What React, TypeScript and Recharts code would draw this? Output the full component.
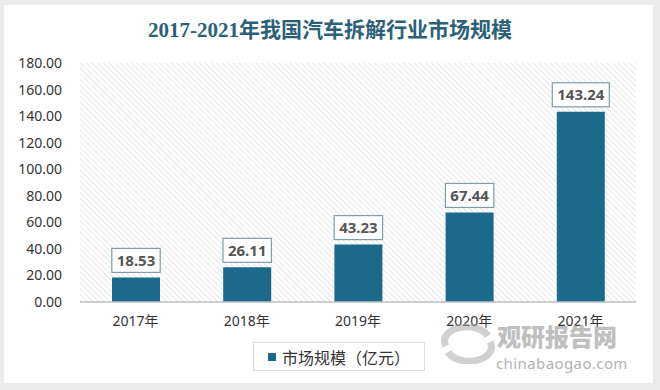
import { Bar, BarChart, CartesianGrid, LabelList, XAxis, YAxis } from 'recharts'

const years = ['2017年', '2018年', '2019年', '2020年', '2021年']
const marketSize = [18.53, 26.11, 43.23, 67.44, 143.24]
const yTicks = [0, 20, 40, 60, 80, 100, 120, 140, 160, 180]

const data = years.map((year, i) => ({ year, value: marketSize[i] }))

const BAR_COLOR = '#1b6a8c'

function ValueLabel(props: any) {
  const { x, y, width, value } = props
  const text = Number(value).toFixed(2)
  const boxW = (text.length - 1) * 8.6 + 4 + 10
  const boxH = 24
  const cx = x + width / 2
  const top = y - 5 - boxH
  return (
    <g>
      <rect
        x={cx - boxW / 2}
        y={top}
        width={boxW}
        height={boxH}
        fill="#fff"
        stroke="#7f9ca9"
        strokeWidth={1.2}
      />
      <text
        x={cx}
        y={top + boxH / 2 + 5.5}
        textAnchor="middle"
        fontSize={15}
        fontWeight="bold"
        fill="#555"
        fontFamily="'Noto Sans', sans-serif"
      >
        {text}
      </text>
    </g>
  )
}

export default function App() {
  return (
    <div
      style={{
        position: 'absolute',
        left: 0,
        top: 0,
        width: 660,
        height: 390,
        background: '#ebebeb',
        fontFamily: "'Noto Sans', 'Noto Sans CJK SC', sans-serif",
      }}
    >
      <svg width={0} height={0} style={{ position: 'absolute' }}>
        <defs>
          <pattern
            id="hatch"
            patternUnits="userSpaceOnUse"
            width={4}
            height={4}
            patternTransform="rotate(-45)"
          >
            <rect width={4} height={4} fill="#fff" />
            <line x1={0} y1={0} x2={0} y2={4} stroke="#dcdcdc" strokeWidth={1.4} />
          </pattern>
        </defs>
      </svg>
      <div
        style={{
          position: 'absolute',
          left: 4,
          top: 5,
          width: 649,
          height: 378,
          background: '#fff',
        }}
      />
      <div
        style={{
          position: 'absolute',
          left: 0,
          top: 16,
          width: 660,
          textAlign: 'center',
          fontFamily: "'Liberation Serif', 'Noto Sans CJK SC', serif",
          fontWeight: 'bold',
          fontSize: 21,
          color: '#2a6179',
          lineHeight: '28px',
        }}
      >
        2017-2021年我国汽车拆解行业市场规模
      </div>
      <div style={{ position: 'absolute', left: 0, top: 0 }}>
        <BarChart
          width={660}
          height={390}
          data={data}
          margin={{ top: 63, right: 24, bottom: 58, left: 0 }}
        >
          <CartesianGrid horizontal={false} vertical={false} fill="url(#hatch)" />
          <XAxis
            dataKey="year"
            height={30}
            tickLine={false}
            tickSize={0}
            tickMargin={14}
            axisLine={{ stroke: '#bfbfbf', strokeWidth: 1.5 }}
            tick={{ fill: '#333', fontSize: 14 }}
          />
          <YAxis
            width={80}
            domain={[0, 180]}
            ticks={yTicks}
            interval={0}
            tickFormatter={(v: number) => v.toFixed(2)}
            axisLine={false}
            tickLine={false}
            tickSize={0}
            tickMargin={18}
            tick={{ fill: '#333', fontSize: 14 }}
          />
          <Bar dataKey="value" fill={BAR_COLOR} barSize={48} isAnimationActive={false}>
            <LabelList dataKey="value" content={ValueLabel} />
          </Bar>
        </BarChart>
      </div>
      <div
        style={{
          position: 'absolute',
          left: 253,
          top: 342,
          width: 172,
          height: 29,
          border: '1px solid #dedede',
          boxSizing: 'border-box',
          display: 'flex',
          alignItems: 'center',
          justifyContent: 'center',
          gap: 6,
          fontSize: 16,
          color: '#333',
        }}
      >
        <span style={{ width: 8, height: 8, background: BAR_COLOR, display: 'inline-block' }} />
        <span>市场规模（亿元）</span>
      </div>
      <svg
        width={60}
        height={40}
        style={{ position: 'absolute', left: 438, top: 324, opacity: 0.55 }}
      >
        <path d="M8 22 A22 14 0 0 1 50 12" stroke="#aaa" strokeWidth={7} fill="none" />
        <path d="M52 18 A22 14 0 0 1 10 28" stroke="#aaa" strokeWidth={7} fill="none" />
      </svg>
      <div
        style={{
          position: 'absolute',
          left: 497,
          top: 318,
          fontSize: 24,
          fontWeight: 900,
          color: '#b5b5b5',
          opacity: 0.85,
          fontFamily: "'Noto Sans CJK SC', sans-serif",
        }}
      >
        观研报告网
      </div>
      <div
        style={{
          position: 'absolute',
          left: 496,
          top: 353,
          fontSize: 15,
          color: '#aaa',
          opacity: 0.9,
          letterSpacing: 0.4,
        }}
      >
        chinabaogao.com
      </div>
    </div>
  )
}
